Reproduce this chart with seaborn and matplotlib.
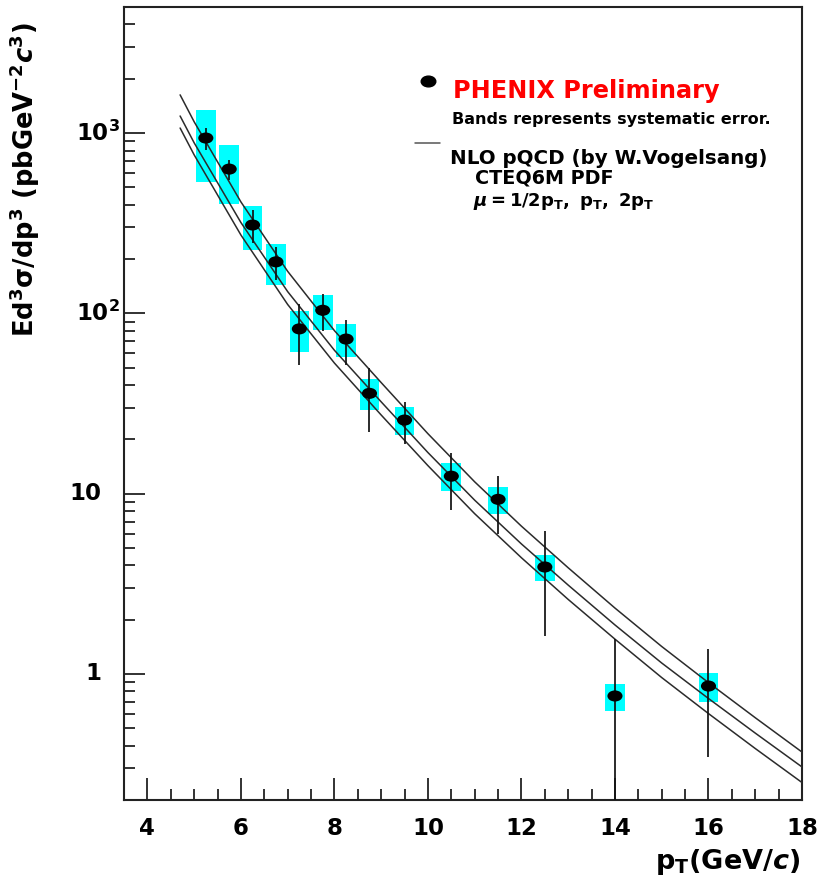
import numpy as np
import pandas as pd
import matplotlib
matplotlib.use("Agg")
import matplotlib.pyplot as plt
import seaborn as sns
from matplotlib.path import Path
from matplotlib.transforms import Affine2D
from matplotlib.ticker import MultipleLocator, LogLocator, NullFormatter

# PHENIX preliminary direct-photon cross section, Ed^3sigma/dp^3 [pb GeV^-2 c^3]
pt = [5.25, 5.75, 6.25, 6.75, 7.25, 7.75, 8.25, 8.75, 9.5, 10.5, 11.5, 12.5, 14.0, 16.0]
xsec = [938, 631, 309, 193, 82, 104, 72, 36, 25.6, 12.5, 9.3, 3.92, 0.755, 0.857]
stat_err = [130, 80, 65, 40, 30, 24, 20, 14, 6.7, 4.4, 3.3, 2.3, 0.8, 0.51]
syst_err = [400, 225, 85, 50, 21, 23, 15, 7, 4.5, 2.2, 1.6, 0.66, 0.13, 0.155]

# NLO pQCD (W. Vogelsang), CTEQ6M PDF, scales mu = pT/2, pT, 2pT
nlo_pt = [4.7, 5, 6, 7, 8, 9, 10, 11, 12, 13, 14, 15, 16, 17, 18]
nlo_half_pt = [1628, 1155, 415, 171, 80.2, 41.3, 21.5, 11.63, 6.60, 3.88, 2.32, 1.42, 0.895, 0.572, 0.369]
nlo_pt_scale = [1243, 883, 319, 132, 62.4, 32.3, 16.9, 9.2, 5.26, 3.11, 1.87, 1.15, 0.731, 0.470, 0.305]
nlo_two_pt = [1066, 757, 272, 112, 53.0, 27.3, 14.3, 7.74, 4.41, 2.59, 1.56, 0.955, 0.603, 0.386, 0.250]

sns.set_style("white")
plt.rcParams["font.family"] = ["DejaVu Sans"]
plt.rcParams["font.weight"] = "bold"
plt.rcParams["text.color"] = "black"
plt.rcParams["axes.labelcolor"] = "black"
plt.rcParams["mathtext.fontset"] = "custom"
plt.rcParams["mathtext.rm"] = "DejaVu Sans"
plt.rcParams["mathtext.it"] = "DejaVu Sans:italic"
plt.rcParams["mathtext.bf"] = "DejaVu Sans:bold"
plt.rcParams["mathtext.bfit"] = "DejaVu Sans:bold:italic"

W, H = 833, 877
fig = plt.figure(figsize=(W / 100, H / 100), dpi=100)
fig.patch.set_facecolor("white")
ax = fig.add_axes([124 / W, 1 - 800 / H, 678 / W, 793 / H])
ax.set_yscale("log")
ax.set_xlim(3.5, 18)
ax.set_ylim(0.2, 5000)

# flattened round marker
ellipse = Path.unit_circle().transformed(Affine2D().scale(1.36, 1.0))

pt_a = np.array(pt)
xsec_a = np.array(xsec)
syst_a = np.array(syst_err)

# systematic error bands
ax.bar(pt_a, 2 * syst_a, bottom=xsec_a - syst_a, width=0.42,
       color="#00ffff", linewidth=0, zorder=1)

# NLO curves
nlo = pd.DataFrame({
    "pt": nlo_pt * 3,
    "xsec": nlo_half_pt + nlo_pt_scale + nlo_two_pt,
    "scale": ["pT/2"] * len(nlo_pt) + ["pT"] * len(nlo_pt) + ["2pT"] * len(nlo_pt),
})
sns.lineplot(data=nlo, x="pt", y="xsec", hue="scale",
             palette=["#2b2b2b"] * 3, linewidth=1.1, legend=False,
             estimator=None, sort=False, ax=ax, zorder=3)

# statistical errors
ax.errorbar(pt, xsec, yerr=stat_err, fmt="none", ecolor="#111111",
            elinewidth=1.25, capsize=0, zorder=4)

# data points
sns.scatterplot(x=pt, y=xsec, marker=ellipse, s=118, color="black",
                edgecolor="none", linewidth=0, ax=ax, zorder=5)

# axes frame and ticks
for sp in ax.spines.values():
    sp.set_linewidth(1.5)
    sp.set_color("#222222")
ax.xaxis.set_major_locator(MultipleLocator(2))
ax.xaxis.set_minor_locator(MultipleLocator(0.5))
ax.yaxis.set_major_locator(LogLocator(base=10))
ax.yaxis.set_minor_locator(LogLocator(base=10, subs=np.arange(2, 10)))
ax.yaxis.set_major_formatter(NullFormatter())
ax.yaxis.set_minor_formatter(NullFormatter())
ax.tick_params(axis="x", which="major", direction="in", length=15.8, width=1.3,
               pad=12, labelsize=16.5, colors="#222222", labelcolor="black",
               bottom=True, top=False)
ax.tick_params(axis="x", which="minor", direction="in", length=7.9, width=1.3,
               colors="#222222", bottom=True, top=False)
ax.tick_params(axis="y", which="major", direction="in", length=14.9, width=1.3,
               colors="#222222", left=True, right=False)
ax.tick_params(axis="y", which="minor", direction="in", length=7.7, width=1.3,
               colors="#222222", left=True, right=False)
for lbl in ax.get_xticklabels():
    lbl.set_fontweight("bold")

ytrans = ax.get_yaxis_transform()
ylabels = {1: ("1", -0.0339), 10: ("10", -0.0339),
           100: (r"$\mathbf{10^{2}}$", -0.0059), 1000: (r"$\mathbf{10^{3}}$", -0.0059)}
for val, (txt, xa) in ylabels.items():
    ax.text(xa, val, txt, transform=ytrans, ha="right", va="center",
            fontsize=16.5, fontweight="bold", color="black")

ax.set_xlabel(r"$\mathbf{p_{T}(GeV/}\mathbfit{c}\mathbf{)}$", fontsize=19.5,
              ha="right", va="center")
ax.xaxis.set_label_coords(0.997, -0.078)
ax.set_ylabel(r"$\mathbf{Ed^{3}\sigma/dp^{3}\ (pbGeV^{-2}}\mathbfit{c}^{\mathbf{3}}\mathbf{)}$",
              fontsize=18.5, va="center")
ax.yaxis.set_label_coords(-0.146, 0.782)

# legend block
ta = ax.transAxes
ax.plot([0.4484], [0.9067], transform=ta, marker=ellipse, ms=10.5,
        color="black", ls="none", clip_on=False)
ax.text(0.4853, 0.8852, "PHENIX Preliminary", transform=ta, color="#ff0000",
        fontsize=17.3, fontweight="bold", va="baseline")
ax.text(0.4838, 0.8525, "Bands represents systematic error.", transform=ta,
        fontsize=11.5, fontweight="bold", va="baseline")
ax.plot([0.4292, 0.4661], [0.8285, 0.8285], transform=ta, color="#555555",
        linewidth=1.1)
ax.text(0.4808, 0.802, "NLO pQCD (by W.Vogelsang)", transform=ta,
        fontsize=14.3, fontweight="bold", va="baseline")
ax.text(0.5177, 0.7768, "CTEQ6M PDF", transform=ta,
        fontsize=13.8, fontweight="bold", va="baseline")
ax.text(0.5147, 0.749,
        r"$\mu\mathbf{=1/2p_{T},\ p_{T},\ 2p_{T}}$", transform=ta,
        fontsize=13, va="baseline")

fig.savefig("out.png", dpi=100, facecolor="white")
